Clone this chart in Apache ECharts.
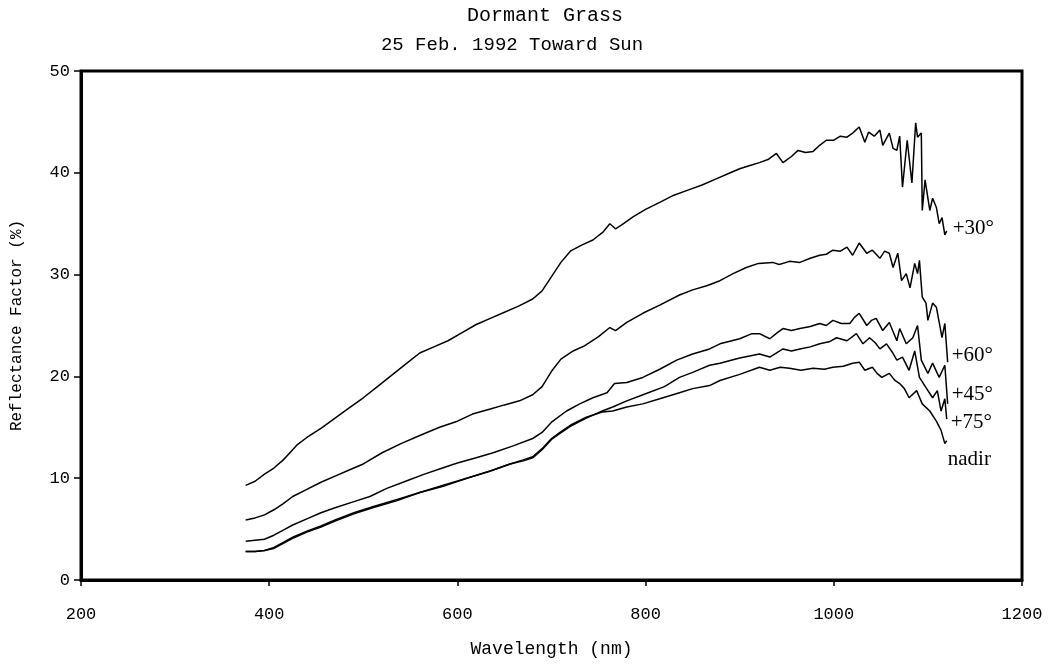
<!DOCTYPE html>
<html>
<head>
<meta charset="utf-8">
<title>Dormant Grass</title>
<script src="https://cdn.jsdelivr.net/npm/echarts@6/dist/echarts.min.js"></script>
<style>
  html, body { margin: 0; padding: 0; background: #fff; }
  #chart { width: 1054px; height: 667px; }
</style>
</head>
<body>
<div id="chart"></div>
<script>
// wavelength (nm), reflectance factor (%)
const plus30 = [
  [375, 9.3], [385, 9.7], [395, 10.4], [405, 11.0], [415, 11.8], [422, 12.5], [430, 13.3], [440, 14.0], [455, 14.9],
  [470, 15.9], [485, 16.9], [500, 17.9], [515, 19.0], [530, 20.1], [545, 21.2], [560, 22.3], [575, 22.9],
  [590, 23.5], [605, 24.3], [620, 25.1], [635, 25.7], [650, 26.3], [665, 26.9], [680, 27.6], [690, 28.4],
  [700, 29.8], [710, 31.2], [720, 32.3], [732, 32.9], [744, 33.4], [755, 34.2], [762, 35.0], [768, 34.5],
  [775, 34.9], [787, 35.7], [800, 36.4], [815, 37.1], [830, 37.8], [845, 38.3], [860, 38.8], [875, 39.4],
  [890, 40.0], [900, 40.4], [910, 40.7], [921, 41.0], [930, 41.3], [939, 41.9], [946, 41.0], [955, 41.6],
  [962, 42.2], [970, 42.0], [978, 42.1], [985, 42.7], [992, 43.2], [1000, 43.2], [1007, 43.6], [1014, 43.5],
  [1020, 43.9], [1027, 44.5], [1033, 43.0], [1037, 44.0], [1043, 43.6], [1049, 44.2], [1052, 42.7],
  [1059, 43.9], [1063, 42.4], [1067, 42.2], [1070, 43.6], [1073, 38.6], [1078, 43.2], [1083, 39.0],
  [1087, 44.9], [1089, 43.5], [1093, 43.9], [1094, 36.3], [1097, 39.3], [1102, 36.3], [1105, 37.5],
  [1109, 36.6], [1112, 35.0], [1115, 35.6], [1118, 33.9], [1120, 34.3]
];
const plus60 = [
  [375, 5.9], [385, 6.1], [395, 6.4], [405, 6.9], [415, 7.5], [425, 8.2], [440, 8.9], [455, 9.6],
  [470, 10.2], [485, 10.8], [500, 11.4], [520, 12.5], [540, 13.4], [560, 14.2], [581, 15.0], [600, 15.6],
  [616, 16.3], [635, 16.8], [650, 17.2], [666, 17.6], [680, 18.2], [690, 19.0], [700, 20.5], [710, 21.7],
  [723, 22.5], [735, 23.0], [750, 23.9], [762, 24.8], [768, 24.5], [780, 25.3], [797, 26.2], [815, 27.0],
  [836, 28.0], [850, 28.5], [865, 28.9], [879, 29.4], [893, 30.1], [907, 30.7], [920, 31.1], [935, 31.2],
  [942, 31.0], [953, 31.3], [964, 31.2], [975, 31.6], [985, 31.9], [992, 32.0], [999, 32.4], [1007, 32.3],
  [1014, 32.7], [1020, 31.9], [1027, 33.1], [1035, 32.1], [1041, 32.4], [1049, 31.6], [1054, 32.3],
  [1059, 32.1], [1063, 30.7], [1068, 32.1], [1072, 29.4], [1077, 30.1], [1081, 28.7], [1086, 31.1],
  [1089, 30.1], [1091, 31.4], [1094, 27.8], [1098, 27.2], [1100, 25.5], [1105, 27.2], [1109, 26.8],
  [1115, 23.8], [1118, 25.2], [1121, 21.4]
];
const plus45 = [
  [375, 3.8], [385, 3.9], [395, 4.0], [405, 4.4], [415, 4.9], [425, 5.4], [440, 6.0], [455, 6.6],
  [470, 7.1], [490, 7.7], [507, 8.2], [525, 9.0], [545, 9.7], [565, 10.4], [581, 10.9], [600, 11.5],
  [620, 12.0], [638, 12.5], [660, 13.2], [680, 13.9], [690, 14.5], [700, 15.5], [716, 16.6], [730, 17.3],
  [744, 17.9], [759, 18.4], [767, 19.3], [780, 19.4], [797, 19.9], [815, 20.7], [833, 21.6], [850, 22.2],
  [868, 22.7], [879, 23.2], [900, 23.7], [913, 24.2], [921, 24.2], [932, 23.7], [940, 24.3], [946, 24.7],
  [955, 24.5], [964, 24.7], [975, 24.9], [985, 25.2], [992, 25.0], [999, 25.5], [1008, 25.2], [1017, 25.2],
  [1022, 25.8], [1027, 26.2], [1035, 25.0], [1040, 25.5], [1045, 25.7], [1052, 24.5], [1059, 25.3],
  [1067, 23.5], [1070, 24.7], [1077, 23.2], [1084, 23.8], [1089, 25.0], [1093, 21.6], [1100, 20.3],
  [1105, 21.3], [1112, 19.9], [1118, 21.1], [1121, 17.3]
];
const plus75 = [
  [375, 2.8], [385, 2.8], [395, 2.9], [405, 3.1], [415, 3.6], [425, 4.1], [440, 4.7], [455, 5.2],
  [470, 5.8], [490, 6.5], [510, 7.1], [536, 7.8], [560, 8.6], [585, 9.2], [610, 10.0], [635, 10.7],
  [656, 11.4], [670, 11.7], [680, 12.0], [690, 12.8], [700, 13.8], [709, 14.4], [720, 15.1], [737, 15.9],
  [754, 16.6], [765, 17.0], [780, 17.6], [800, 18.3], [820, 19.0], [836, 19.9], [850, 20.4], [868, 21.1],
  [879, 21.3], [900, 21.8], [921, 22.2], [932, 21.9], [946, 22.7], [955, 22.5], [964, 22.7], [975, 22.9],
  [985, 23.2], [995, 23.4], [1003, 23.8], [1014, 23.5], [1024, 24.2], [1031, 23.2], [1038, 23.8],
  [1044, 23.3], [1049, 22.7], [1056, 23.2], [1062, 22.4], [1067, 21.6], [1073, 21.9], [1080, 20.6],
  [1086, 22.5], [1091, 19.9], [1098, 18.9], [1105, 17.9], [1110, 18.6], [1114, 16.6], [1118, 17.8],
  [1120, 15.8]
];
const nadir = [
  [375, 2.8], [385, 2.8], [395, 2.9], [405, 3.2], [415, 3.7], [425, 4.2], [440, 4.8], [455, 5.3],
  [470, 5.9], [490, 6.6], [510, 7.2], [536, 7.9], [560, 8.6], [585, 9.3], [610, 10.0], [635, 10.7],
  [656, 11.4], [670, 11.8], [680, 12.1], [690, 12.9], [700, 13.9], [709, 14.5], [720, 15.2], [737, 16.0],
  [754, 16.5], [765, 16.6], [780, 17.0], [797, 17.3], [815, 17.8], [836, 18.4], [850, 18.8], [868, 19.1],
  [879, 19.6], [900, 20.2], [921, 20.9], [932, 20.6], [943, 20.9], [953, 20.8], [965, 20.6], [978, 20.8],
  [990, 20.7], [999, 20.9], [1010, 21.0], [1020, 21.3], [1027, 21.4], [1033, 20.6], [1041, 20.9],
  [1046, 20.3], [1051, 19.9], [1059, 20.3], [1065, 19.6], [1070, 19.3], [1075, 18.8], [1080, 17.9],
  [1088, 18.6], [1094, 17.3], [1102, 16.6], [1109, 15.6], [1114, 14.7], [1118, 13.4], [1120, 13.7]
];
const seriesNames = ['+30°', '+60°', '+45°', '+75°', 'nadir'];
const seriesData = [plus30, plus60, plus45, plus75, nadir];
// label nudges so they sit where the original put them
const labelOffsets = [[4, -2], [2, -7], [2, -9], [2, 3], [-1, 19]];

const mono = 'Liberation Mono';
const serif = 'Liberation Serif';

const chart = echarts.init(document.getElementById('chart'));

chart.setOption({
  backgroundColor: '#fff',
  animation: false,
  title: [
    {
      text: 'Dormant Grass',
      left: 540, top: 1, textAlign: 'center',
      textStyle: { fontFamily: mono, fontSize: 20, fontWeight: 'normal', color: '#000' }
    },
    {
      text: '25 Feb. 1992 Toward Sun',
      left: 507, top: 30, textAlign: 'center',
      textStyle: { fontFamily: mono, fontSize: 19, fontWeight: 'normal', color: '#000' }
    }
  ],
  grid: {
    left: 81, right: 32, top: 71, bottom: 87,
    show: true, borderColor: '#000', borderWidth: 3, backgroundColor: 'transparent'
  },
  xAxis: {
    type: 'value', min: 200, max: 1200, interval: 200,
    name: 'Wavelength (nm)', nameLocation: 'middle', nameGap: 60,
    nameTextStyle: { fontFamily: mono, fontSize: 18, color: '#000' },
    axisLine: { show: true, lineStyle: { color: '#000', width: 3 } },
    axisTick: { show: true, inside: false, length: 6, lineStyle: { color: '#000', width: 1.5 } },
    axisLabel: { fontFamily: mono, fontSize: 17, color: '#000', margin: 26, formatter: v => String(v) },
    splitLine: { show: false }
  },
  yAxis: {
    type: 'value', min: 0, max: 50, interval: 10,
    name: 'Reflectance Factor (%)', nameLocation: 'middle', nameGap: 56, nameRotate: 90,
    nameTextStyle: { fontFamily: mono, fontSize: 16, color: '#000' },
    axisLine: { show: true, lineStyle: { color: '#000', width: 3 } },
    axisTick: { show: true, inside: false, length: 7, lineStyle: { color: '#000', width: 1.5 } },
    axisLabel: { fontFamily: mono, fontSize: 17, color: '#000', margin: 11 },
    splitLine: { show: false }
  },
  series: seriesData.map((d, i) => ({
    name: seriesNames[i],
    type: 'line',
    data: d,
    showSymbol: false,
    symbol: 'none',
    lineStyle: { color: '#000', width: 1.5 },
    endLabel: {
      show: true,
      formatter: seriesNames[i],
      fontFamily: serif,
      fontSize: 21,
      color: '#000',
      distance: 2,
      offset: labelOffsets[i]
    },
    emphasis: { disabled: true }
  }))
});
</script>
</body>
</html>
